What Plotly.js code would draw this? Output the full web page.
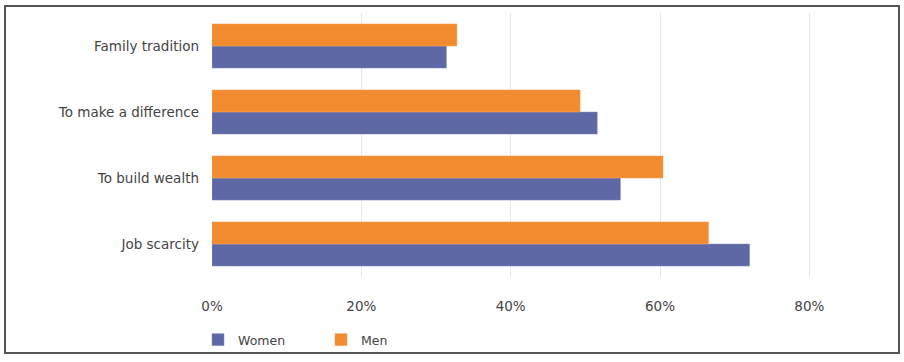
<!DOCTYPE html>
<html>
<head>
<meta charset="utf-8">
<script src="https://cdn.plot.ly/plotly-3.0.1.min.js"></script>
<style>
  html, body { margin: 0; padding: 0; background: #ffffff; }
  #frame { position: absolute; left: 4px; top: 5px; width: 892px; height: 345px; border: 2px solid #555555; }
  #chart { position: absolute; left: 0; top: 0; width: 904px; height: 362px; }
</style>
</head>
<body>
<div id="frame"></div>
<div id="chart"></div>
<script>
const categories = ['Job scarcity', 'To build wealth', 'To make a difference', 'Family tradition'];
const women = [0.720, 0.547, 0.516, 0.314];
const men = [0.665, 0.604, 0.493, 0.328];
const tickValues = [0, 0.2, 0.4, 0.6, 0.8];
const tickLabels = ['0%', '20%', '40%', '60%', '80%'];

const traces = [
  { type: 'bar', orientation: 'h', name: 'Women', y: categories, x: women,
    marker: { color: '#5d68a4', line: { color: '#8a90c0', width: 0.5 } }, hoverinfo: 'none' },
  { type: 'bar', orientation: 'h', name: 'Men', y: categories, x: men,
    marker: { color: '#f28a30', line: { color: '#f5a560', width: 0.5 } }, hoverinfo: 'none' }
];

const layout = {
  width: 904, height: 362,
  margin: { l: 212, r: 20, t: 13, b: 85, autoexpand: false },
  paper_bgcolor: 'rgba(0,0,0,0)',
  plot_bgcolor: 'rgba(0,0,0,0)',
  font: { family: 'DejaVu Sans, sans-serif', size: 13.5, color: '#444444' },
  barmode: 'group',
  bargap: 0.33,
  bargroupgap: 0,
  xaxis: {
    range: [0, 0.9], tickvals: tickValues, ticktext: tickLabels,
    showgrid: true, gridcolor: '#e6e6e6', gridwidth: 1, zeroline: false,
    showline: false, ticks: '', ticklabelstandoff: 19, fixedrange: true,
    automargin: false
  },
  yaxis: {
    type: 'category', categoryorder: 'array', categoryarray: categories,
    showgrid: false, zeroline: false, showline: false, ticks: '',
    ticklabelstandoff: 12, fixedrange: true, automargin: false
  },
  showlegend: true,
  legend: {
    orientation: 'h', xref: 'container', x: 198 / 904, xanchor: 'left',
    yref: 'container', y: 22 / 362, yanchor: 'middle',
    entrywidth: 78, entrywidthmode: 'pixels', traceorder: 'normal',
    font: { size: 12.5, color: '#444444' }, bgcolor: 'rgba(0,0,0,0)'
  }
};

Plotly.newPlot('chart', traces, layout, { displayModeBar: false, staticPlot: true });
</script>
</body>
</html>
